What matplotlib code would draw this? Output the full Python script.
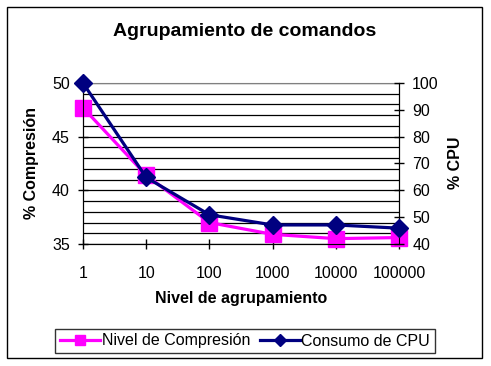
import matplotlib
matplotlib.use("Agg")
import matplotlib.pyplot as plt
from matplotlib.ticker import MultipleLocator
from matplotlib.patches import Rectangle

plt.rcParams["font.family"] = ["Liberation Sans", "DejaVu Sans"]

niveles = ["1", "10", "100", "1000", "10000", "100000"]
compresion = [47.7, 41.4, 37.0, 35.9, 35.5, 35.6]
cpu = [100, 64.8, 50.9, 47.1, 47.1, 45.9]

MAGENTA = "#FF00FF"
NAVY = "#000080"

fig = plt.figure(figsize=(4.91, 3.66), dpi=100)
ax = fig.add_axes([83 / 491, 1 - 244 / 366, 316 / 491, 161 / 366])
ax2 = ax.twinx()

x = list(range(len(niveles)))

# left axis: compression
ax.set_xlim(0, len(niveles) - 1)
ax.set_ylim(35, 50)
ax.yaxis.set_major_locator(MultipleLocator(5))
ax.yaxis.set_minor_locator(MultipleLocator(1))
ax.grid(True, which="both", axis="y", color="black", lw=0.9)
ax.set_axisbelow(True)
ax.set_xticks(x)
ax.set_xticklabels(niveles)
ax.tick_params(axis="y", which="major", direction="inout", length=7, width=1, pad=6, labelsize=11.5)
ax.tick_params(axis="y", which="minor", length=0)
ax.tick_params(axis="x", direction="inout", length=7, width=1, pad=12, labelsize=11.5)
ax.spines["top"].set_color("#808080")
for s in ("left", "bottom", "right"):
    ax.spines[s].set_color("black")

(l1,) = ax.plot(x, compresion, color=MAGENTA, lw=2.3, marker="s", ms=11,
                clip_on=False, zorder=3, label="Nivel de Compresión")

# right axis: CPU
ax2.set_ylim(40, 100)
ax2.yaxis.set_major_locator(MultipleLocator(10))
ax2.tick_params(axis="y", direction="inout", length=7, width=1, pad=6, labelsize=11.5)
ax2.spines["top"].set_visible(False)
(l2,) = ax2.plot(x, cpu, color=NAVY, lw=2.3, marker="D", ms=9,
                 clip_on=False, zorder=4, label="Consumo de CPU")

fig.text(245 / 491, 1 - 32 / 366, "Agrupamiento de comandos", ha="center", va="center",
         fontsize=14, fontweight="bold")
fig.text(241 / 491, 1 - 298 / 366, "Nivel de agrupamiento", ha="center", va="center",
         fontsize=11.5, fontweight="bold")
fig.text(32 / 491, 1 - 163 / 366, "% Compresión", ha="center", va="center",
         rotation=90, fontsize=11.5, fontweight="bold")
fig.text(455 / 491, 1 - 163 / 366, "% CPU", ha="center", va="center",
         rotation=90, fontsize=11.5, fontweight="bold")

leg = fig.legend([l1, l2], ["Nivel de Compresión", "Consumo de CPU"], ncol=2,
                 loc="center", bbox_to_anchor=(245 / 491, 1 - 341 / 366),
                 fontsize=11.5, frameon=True, fancybox=False, markerscale=0.7,
                 handlelength=2.5, handletextpad=0.1, columnspacing=0.6,
                 borderpad=0.3, borderaxespad=0)
leg.get_frame().set_edgecolor("black")
leg.get_frame().set_linewidth(1)

fig.patches.append(Rectangle((7 / 491, 1 - 358 / 366), 475 / 491, 351 / 366,
                             transform=fig.transFigure, fill=False,
                             edgecolor="black", lw=1))

fig.savefig("out.png", dpi=100)
